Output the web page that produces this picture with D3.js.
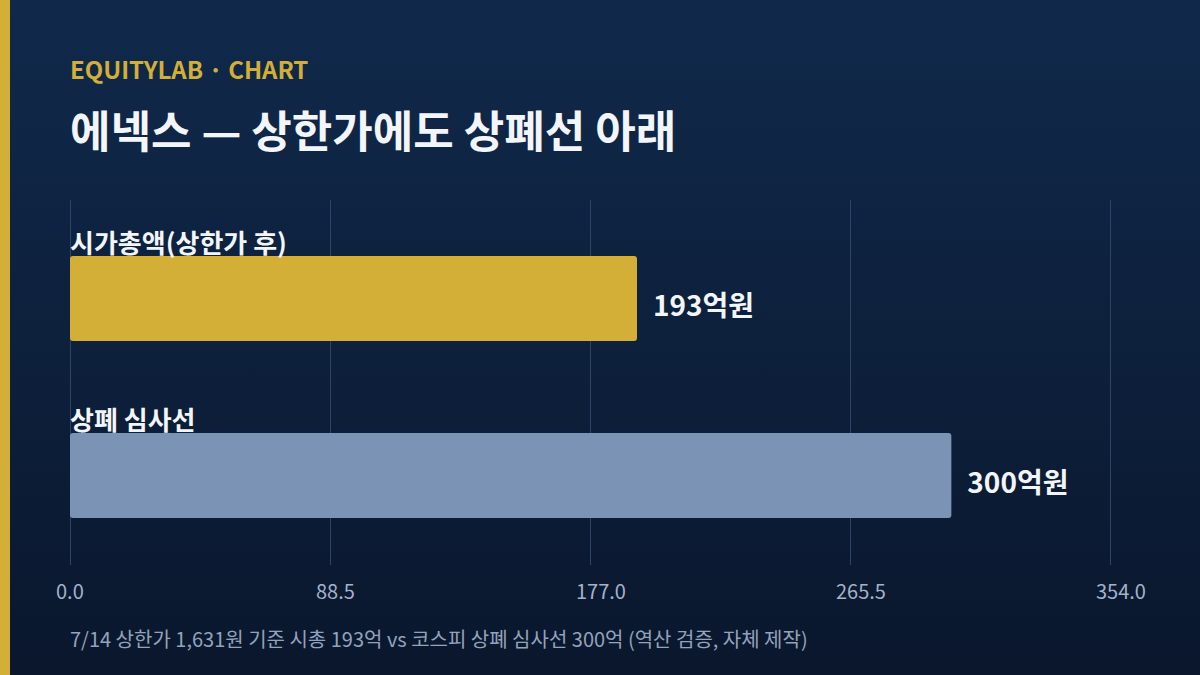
<!DOCTYPE html>
<html>
<head>
<meta charset="utf-8">
<script src="https://cdn.jsdelivr.net/npm/d3@7"></script>
<style>
  html, body { margin: 0; padding: 0; }
  body { width: 1200px; height: 675px; overflow: hidden; font-family: "Noto Sans CJK KR", "Noto Sans", sans-serif; }
</style>
</head>
<body>
<div id="chart"></div>
<script>
var categories = ["시가총액(상한가 후)", "상폐 심사선"];
var values = [193, 300];
var valueLabels = ["193억원", "300억원"];
var barColors = ["#d4af37", "#7b93b5"];
var tickValues = [0, 88.5, 177, 265.5, 354];

function init() {
    var w = 1200;
    var h = 675;

    var svg = d3.select("#chart")
        .append("svg")
        .attr("width", w)
        .attr("height", h);

    // background gradient
    var defs = svg.append("defs");
    var grad = defs.append("linearGradient")
        .attr("id", "bg")
        .attr("x1", 0).attr("y1", 0)
        .attr("x2", 0).attr("y2", 1);
    grad.append("stop").attr("offset", "0%").attr("stop-color", "#10294b");
    grad.append("stop").attr("offset", "100%").attr("stop-color", "#0a172d");

    svg.append("rect").attr("width", w).attr("height", h).attr("fill", "url(#bg)");
    svg.append("rect").attr("width", 10).attr("height", h).attr("fill", "#d4af37");

    svg.append("text")
        .attr("x", 70).attr("y", 79)
        .attr("fill", "#d4af37")
        .attr("font-size", 24)
        .attr("font-weight", 700)
        .text("EQUITYLAB · CHART");

    svg.append("text")
        .attr("x", 70).attr("y", 148)
        .attr("fill", "#f2f5fa")
        .attr("font-size", 44)
        .attr("font-weight", 700)
        .text("에넥스 — 상한가에도 상폐선 아래");

    var left = 70, right = 1110, top = 200, bottom = 565;

    var xScale = d3.scaleLinear()
        .domain([0, 354])
        .range([left, right]);

    var yScale = d3.scaleBand()
        .domain(d3.range(categories.length))
        .range([top + 56, top + 56 + 177 * 2])
        .paddingInner(0);

    // gridlines
    svg.append("g")
        .attr("transform", "translate(0," + bottom + ")")
        .call(d3.axisBottom(xScale).tickValues(tickValues).tickSize(-(bottom - top)).tickFormat(""))
        .call(function(g) {
            g.select(".domain").remove();
            g.selectAll("line").attr("stroke", "#2c4466").attr("stroke-width", 1);
        });

    // tick labels (start-anchored a bit left of each gridline)
    svg.append("g")
        .selectAll("text")
        .data(tickValues)
        .enter()
        .append("text")
        .attr("x", function(d) { return xScale(d) - 14; })
        .attr("y", 599)
        .attr("fill", "#a3b2c9")
        .attr("font-size", 20)
        .text(d3.format(".1f"));

    var barH = 85;

    var groups = svg.selectAll("g.bar")
        .data(values)
        .enter()
        .append("g")
        .attr("class", "bar")
        .attr("transform", function(d, i) {
            return "translate(0," + yScale(i) + ")";
        });

    groups.append("rect")
        .attr("x", xScale(0))
        .attr("y", 0)
        .attr("width", function(d) { return xScale(d) - xScale(0); })
        .attr("height", barH)
        .attr("rx", 3)
        .attr("fill", function(d, i) { return barColors[i]; });

    groups.append("text")
        .attr("x", xScale(0))
        .attr("y", -3)
        .attr("fill", "#f2f5fa")
        .attr("font-size", 26)
        .attr("font-weight", 700)
        .text(function(d, i) { return categories[i]; });

    groups.append("text")
        .attr("x", function(d) { return xScale(d) + 16; })
        .attr("y", barH / 2 + 17)
        .attr("fill", "#f2f5fa")
        .attr("font-size", 28)
        .attr("font-weight", 700)
        .text(function(d, i) { return valueLabels[i]; });

    svg.append("text")
        .attr("x", 70).attr("y", 647)
        .attr("fill", "#93a3bb")
        .attr("font-size", 20)
        .text("7/14 상한가 1,631원 기준 시총 193억 vs 코스피 상폐 심사선 300억 (역산 검증, 자체 제작)");
}

window.onload = init;
</script>
</body>
</html>
